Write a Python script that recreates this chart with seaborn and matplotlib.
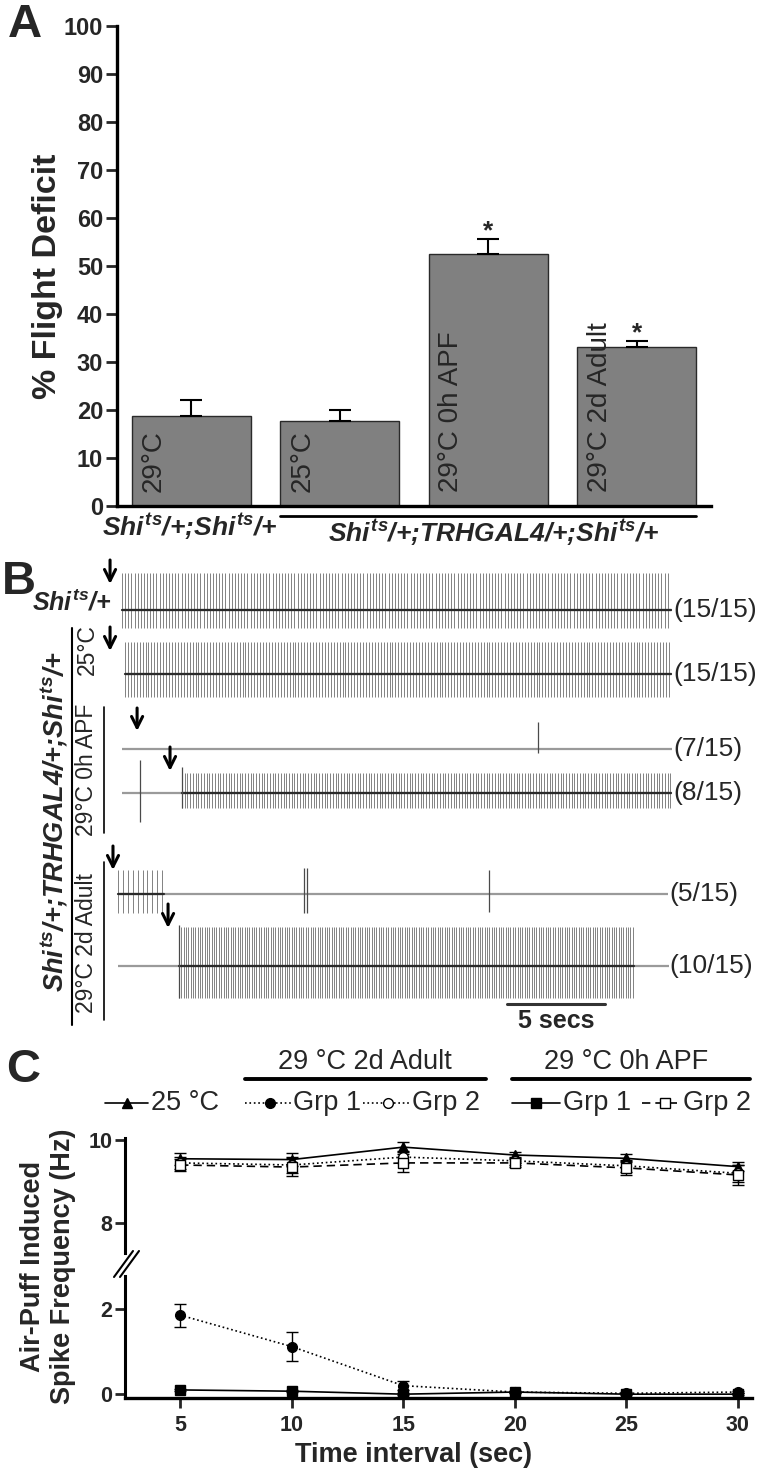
import matplotlib.pyplot as plt
import numpy as np
import pandas as pd
import seaborn as sns
from matplotlib.lines import Line2D

W, H = 764, 1476

# ---------------- Panel A: flight deficit ----------------
bar_names = ["29°C", "25°C", "29°C 0h APF", "29°C 2d Adult"]
deficit = [18.8, 17.8, 52.4, 33.1]
deficit_sem = [3.2, 2.2, 3.2, 1.2]
significant = [False, False, True, True]
genotype_ctrl = r"$Shi^{ts}$/+;$Shi^{ts}$/+"
genotype_trh = r"$Shi^{ts}$/+;TRHGAL4/+;$Shi^{ts}$/+"

# ---------------- Panel B: recordings (time in s) ----------------
trace_counts = ["(15/15)", "(15/15)", "(7/15)", "(8/15)", "(5/15)", "(10/15)"]
trace_start = [0.0, 0.15, 0.0, 0.0, -0.2, -0.2]
trace_end = [28.06, 28.06, 28.06, 28.06, 27.86, 27.9]
firing_on = [0.0, 0.15, None, 3.06, -0.2, 2.9]
firing_off = [28.0, 28.0, None, 28.0, 2.14, 26.1]
firing_isi = [0.16, 0.15, None, 0.14, 0.25, 0.12]
spike_up = [37, 32, 0, 20, 24, 39]
spike_down = [18, 23, 0, 15, 19, 32]
# isolated spikes: (time, up, down)
single_spikes = [[], [], [(21.2, 27, 4)], [(0.92, 33, 29), (3.06, 26, 15)],
                 [(9.3, 26, 19), (9.42, 26, 19), (18.72, 24, 18)], [(2.9, 41, 32)]]
arrow_times = [-0.61, -0.61, 0.77, 2.45, -0.46, 2.35]
scale_bar_secs = 5

# ---------------- Panel C: spike frequency ----------------
interval = [5, 10, 15, 20, 25, 30]
freq_25 = [9.55, 9.53, 9.83, 9.64, 9.56, 9.36]
sem_25 = [0.15, 0.15, 0.12, 0.08, 0.1, 0.1]
freq_adult_g1 = [1.86, 1.12, 0.2, 0.05, 0.02, 0.05]
sem_adult_g1 = [0.27, 0.34, 0.1, 0.03, 0.02, 0.03]
freq_adult_g2 = [9.45, 9.4, 9.59, 9.5, 9.38, 9.2]
sem_adult_g2 = [0.15, 0.2, 0.15, 0.1, 0.15, 0.2]
freq_apf_g1 = [0.1, 0.07, 0.0, 0.05, 0.0, 0.0]
sem_apf_g1 = [0.03, 0.03, 0.02, 0.03, 0.02, 0.02]
freq_apf_g2 = [9.4, 9.35, 9.45, 9.45, 9.33, 9.16]
sem_apf_g2 = [0.15, 0.22, 0.22, 0.1, 0.17, 0.24]

sns.set_style("white")
plt.rcParams["font.family"] = ["Liberation Sans", "DejaVu Sans"]
plt.rcParams["mathtext.fontset"] = "custom"
plt.rcParams["mathtext.it"] = "Liberation Sans:italic:bold"
plt.rcParams["mathtext.rm"] = "Liberation Sans:bold"
plt.rcParams["mathtext.bf"] = "Liberation Sans:bold"


def box(l, t, r, b):
    return [l / W, 1 - b / H, (r - l) / W, (b - t) / H]


def fx(px):
    return px / W


def fy(py):
    return 1 - py / H


fig = plt.figure(figsize=(W / 100, H / 100), dpi=100)

# ================= A =================
axA = fig.add_axes(box(117, 26, 711, 506))
sns.barplot(x=bar_names, y=deficit, color="#808080", saturation=1, width=0.8,
            edgecolor="#2a2a2a", linewidth=1, errorbar=None, ax=axA)
xs = np.arange(len(bar_names))
axA.errorbar(xs, deficit, yerr=[np.zeros(len(xs)), deficit_sem], fmt="none",
             ecolor="black", elinewidth=1.5, capsize=8, capthick=1.5)
for i, name in enumerate(bar_names):
    axA.text(i - 0.25, 3.0, name, rotation=90, ha="center", va="bottom",
             fontsize=20)
    if significant[i]:
        axA.text(i, deficit[i] + deficit_sem[i] - 0.8, "*", ha="center",
                 va="bottom", fontsize=19, fontweight="bold")
axA.set_xlim(-0.5, 3.5)
axA.set_ylim(0, 100)
axA.set_yticks(range(0, 101, 10))
axA.set_xticks([])
axA.set_xlabel("")
sns.despine(ax=axA)
for s in ["left", "bottom"]:
    axA.spines[s].set_linewidth(2.4)
    axA.spines[s].set_color("black")
axA.tick_params(axis="y", length=8, width=2, direction="out", left=True,
                labelsize=17, pad=2)
for t in axA.get_yticklabels():
    t.set_fontweight("bold")
fig.text(fx(48), fy(276), "% Flight Deficit", rotation=90, ha="center",
         va="center", fontsize=24.5, fontweight="bold")
fig.text(fx(8), fy(25), "A", ha="left", va="center", fontsize=34,
         fontweight="bold")
axA.plot([0.6, 3.4], [-2.1, -2.1], color="black", lw=2, clip_on=False)
fig.text(fx(190), fy(527), genotype_ctrl, ha="center", va="center",
         fontsize=19, fontweight="bold", style="italic")
fig.text(fx(494), fy(533), genotype_trh, ha="center", va="center",
         fontsize=19, fontweight="bold", style="italic")

# ================= B =================
px_per_s = 19.6
axB = fig.add_axes(box(0, 560, 764, 1040))
axB.set_xlim(-122 / px_per_s, (764 - 122) / px_per_s)
axB.set_ylim(1040, 560)
axB.axis("off")
trace_y = [610, 674, 749, 793, 894, 966]
for i, y0 in enumerate(trace_y):
    spiking = firing_on[i] is not None
    axB.plot([trace_start[i], trace_end[i]], [y0, y0],
             color="#9a9a9a", lw=1.6, solid_capstyle="butt")
    if spiking:
        spikes = np.arange(firing_on[i], firing_off[i], firing_isi[i])
        axB.vlines(spikes, y0 - spike_up[i], y0 + spike_down[i],
                   color="#6e6e6e", lw=0.6)
        axB.plot([firing_on[i], firing_off[i]], [y0, y0], color="#2a2a2a",
                 lw=1.6)
    for t, up, dn in single_spikes[i]:
        axB.vlines(t, y0 - up, y0 + dn, color="#4a4a4a", lw=0.9)
    axB.text(trace_end[i] + 0.05, y0, trace_counts[i], ha="left",
             va="center", fontsize=19)

arrow_y = [(560, 584), (627, 651), (708, 731), (747, 771), (846, 870),
           (904, 928)]
for t, (y1, y2) in zip(arrow_times, arrow_y):
    axB.annotate("", xy=(t, y2), xytext=(t, y1),
                 arrowprops=dict(arrowstyle="->", lw=2.2, color="black",
                                 mutation_scale=20, shrinkA=0, shrinkB=0))

axB.text(-0.51, 603, r"$Shi^{ts}$/+", ha="right", va="center", fontsize=18,
         fontweight="bold", style="italic")
axB.text(-3.47, 821, genotype_trh, rotation=90, ha="center", va="center",
         fontsize=19.5, fontweight="bold", style="italic")
axB.plot([-2.55, -2.55], [628, 1025], color="black", lw=1.5, clip_on=False)
axB.plot([-0.92, -0.92], [707, 833], color="black", lw=1.2, clip_on=False)
axB.plot([-0.92, -0.92], [862, 1020], color="black", lw=1.2, clip_on=False)
axB.text(-1.79, 650, "25°C", rotation=90, ha="center", va="center",
         fontsize=16.5)
axB.text(-1.79, 770, "29°C 0h APF", rotation=90, ha="center", va="center",
         fontsize=16.5)
axB.text(-1.79, 943, "29°C 2d Adult", rotation=90, ha="center", va="center",
         fontsize=16.5)
sb0 = (507 - 122) / px_per_s
axB.plot([sb0, sb0 + scale_bar_secs], [1004, 1004], color="#333333", lw=2.2)
axB.text(sb0 + scale_bar_secs / 2, 1021, f"{scale_bar_secs} secs",
         ha="center", va="center", fontsize=18, fontweight="bold")
fig.text(fx(2), fy(582), "B", ha="left", va="center", fontsize=34,
         fontweight="bold")

# ================= C =================
axCu = fig.add_axes(box(125, 1138, 752, 1253))
axCl = fig.add_axes(box(125, 1276, 752, 1398))

series = [
    (freq_25, sem_25, "^", "black", "-"),
    (freq_adult_g1, sem_adult_g1, "o", "black", ":"),
    (freq_adult_g2, sem_adult_g2, "o", "white", ":"),
    (freq_apf_g1, sem_apf_g1, "s", "black", "-"),
    (freq_apf_g2, sem_apf_g2, "s", "white", (0, (5, 3))),
]
for ax in (axCu, axCl):
    for vals, err, mk, face, ls in series:
        ax.errorbar(interval, vals, yerr=err, fmt="none", ecolor="black",
                    elinewidth=1, capsize=4, capthick=1, zorder=2)
        sns.lineplot(x=interval, y=vals, ax=ax, color="black", marker=mk,
                     markersize=7, markerfacecolor=face,
                     markeredgecolor="black", markeredgewidth=1,
                     linestyle=ls, linewidth=1.2, errorbar=None, zorder=3)
    ax.set_xlim(2.53, 30.63)
    sns.despine(ax=ax)
    ax.spines["left"].set_linewidth(2.2)
    ax.spines["left"].set_color("black")
    ax.tick_params(axis="y", length=7, width=2, left=True, labelsize=15.5,
                   pad=2)

axCu.set_ylim(7.28, 10.05)
axCu.set_yticks([8, 10])
axCu.spines["bottom"].set_visible(False)
axCu.set_xticks([])
axCl.set_ylim(-0.09, 2.78)
axCl.set_yticks([0, 2])
axCl.set_xticks(interval)
axCl.spines["bottom"].set_linewidth(2.4)
axCl.spines["bottom"].set_color("black")
axCl.tick_params(axis="x", length=7, width=2, bottom=True, labelsize=15.5,
                 pad=5)
for ax in (axCu, axCl):
    for t in ax.get_yticklabels() + ax.get_xticklabels():
        t.set_fontweight("bold")

# axis break marks
for dx in (0, 6):
    fig.add_artist(Line2D([fx(114 + dx), fx(133 + dx)], [fy(1277), fy(1251)],
                          color="black", lw=1.5))

fig.text(fx(48), fy(1266), "Air-Puff Induced\nSpike Frequency (Hz)",
         rotation=90, ha="center", va="center", fontsize=19.5,
         fontweight="bold", linespacing=1.15)
fig.text(fx(414), fy(1455), "Time interval (sec)", ha="center", va="center",
         fontsize=19.5, fontweight="bold")
fig.text(fx(6), fy(1070), "C", ha="left", va="center", fontsize=34,
         fontweight="bold")

# legend
fig.text(fx(365), fy(1062), "29 °C 2d Adult", ha="center", va="center",
         fontsize=19.5)
fig.text(fx(626), fy(1062), "29 °C 0h APF", ha="center", va="center",
         fontsize=19.5)
fig.add_artist(Line2D([fx(245), fx(486)], [fy(1079)] * 2, color="black",
                      lw=2.8))
fig.add_artist(Line2D([fx(512), fx(750)], [fy(1079)] * 2, color="black",
                      lw=2.8))
legend_items = [
    (105, 148, 127, "-", "^", "black", "25 °C", 151),
    (245, 291, 270, ":", "o", "black", "Grp 1", 293),
    (363, 410, 388, ":", "o", "white", "Grp 2", 412),
    (512, 560, 536, "-", "s", "black", "Grp 1", 563),
    (642, 682, 665, (0, (5, 3)), "s", "white", "Grp 2", 683),
]
for x0, x1, xm, ls, mk, face, lab, xt in legend_items:
    fig.add_artist(Line2D([fx(x0), fx(x1)], [fy(1103)] * 2, color="black",
                          lw=1.2, linestyle=ls))
    fig.add_artist(Line2D([fx(xm)], [fy(1103)], marker=mk, markersize=7,
                          markerfacecolor=face, markeredgecolor="black",
                          linestyle="none"))
    fig.text(fx(xt), fy(1103), lab, ha="left", va="center", fontsize=19.5)

fig.savefig("out.png", dpi=100)
